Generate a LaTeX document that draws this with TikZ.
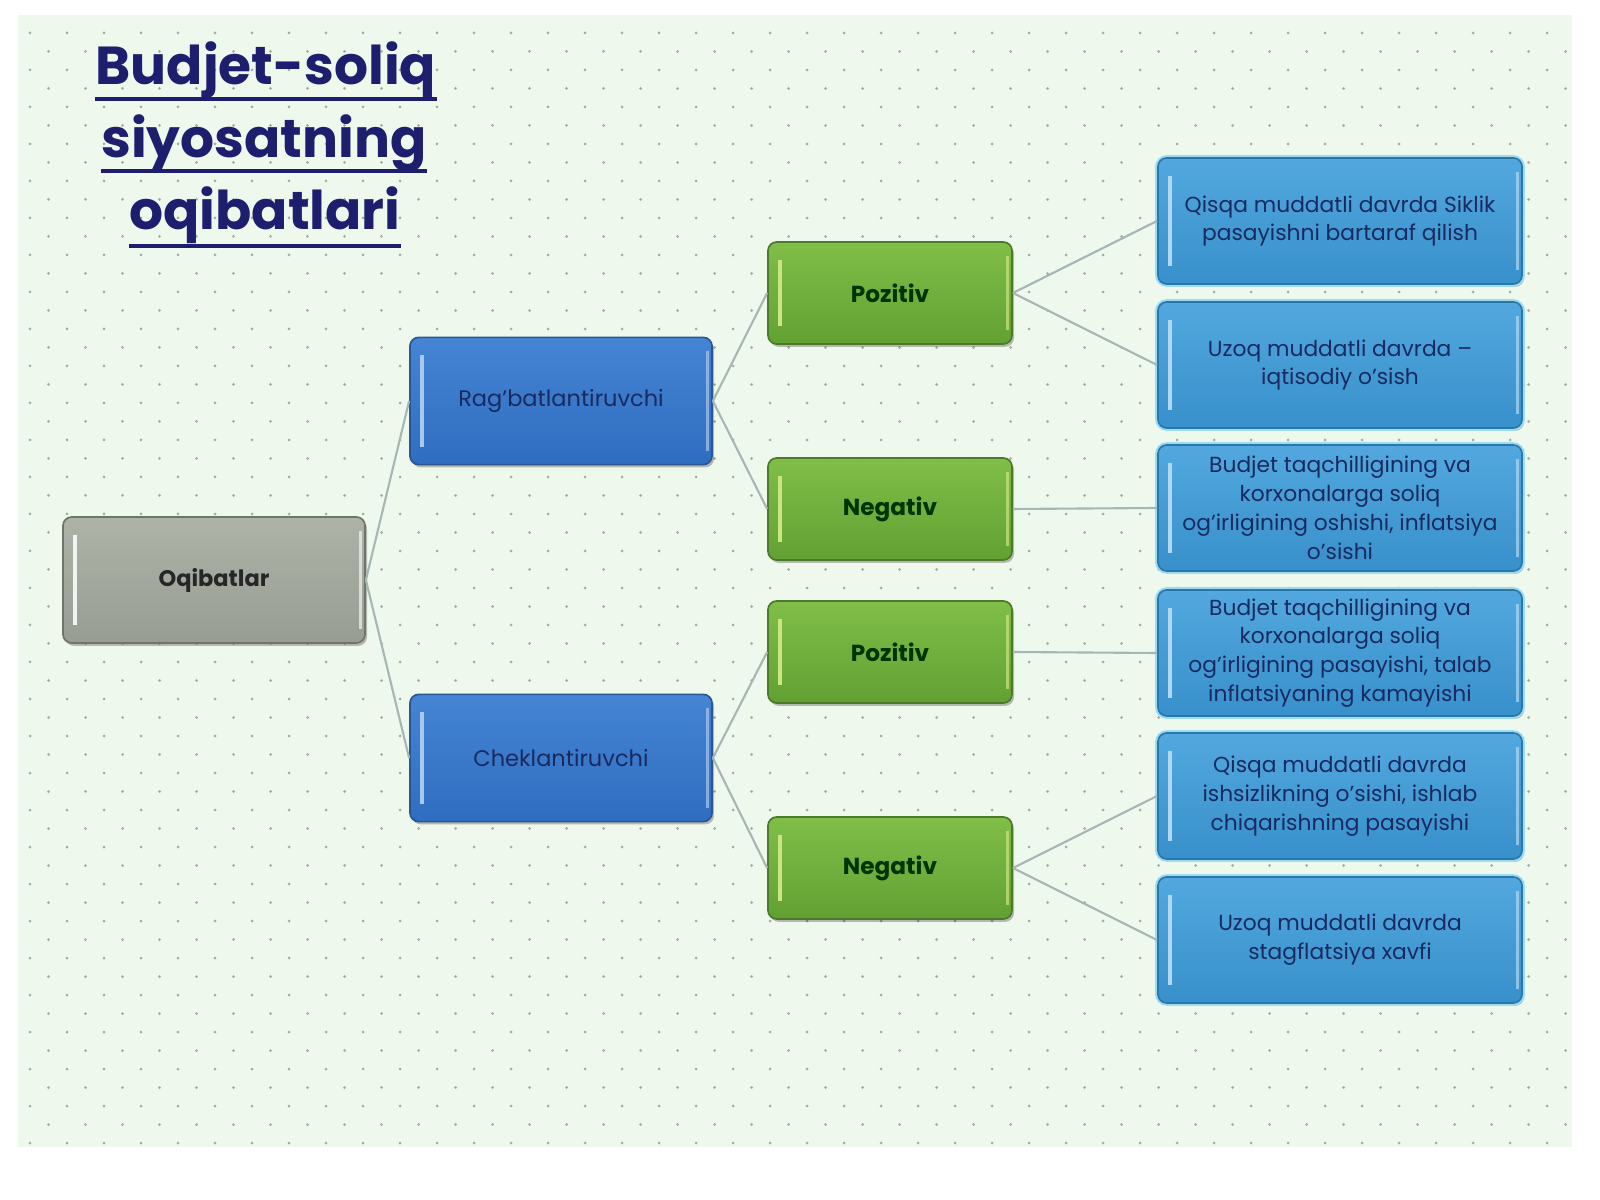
\documentclass[tikz,border=0pt]{standalone}
\usepackage{fontspec}
\setmainfont{Poppins}
\usetikzlibrary{shadows,calc}
\definecolor{bgc}{HTML}{EFF8EC}
\definecolor{dotc}{HTML}{A3ACA3}
\definecolor{linec}{HTML}{A6B6B5}
\definecolor{navy}{HTML}{1E1E6E}
\definecolor{txtblue}{HTML}{182A60}
\definecolor{grayT}{HTML}{AEB3A8}
\definecolor{grayB}{HTML}{979D92}
\definecolor{grayD}{HTML}{6E7569}
\definecolor{blueT}{HTML}{4585D4}
\definecolor{blueB}{HTML}{2F6DC0}
\definecolor{blueD}{HTML}{2A5794}
\definecolor{greenT}{HTML}{80BE48}
\definecolor{greenB}{HTML}{62A033}
\definecolor{greenD}{HTML}{4B7A2A}
\definecolor{lbT}{HTML}{52A8DE}
\definecolor{lbB}{HTML}{3890CB}
\definecolor{lbD}{HTML}{2D77A6}
\definecolor{glow}{HTML}{9ADCF6}
\tikzset{
  boxbase/.style={rectangle, rounded corners=0.22cm, inner sep=0pt, align=center, line width=1.2pt,
    drop shadow={shadow xshift=0.05cm, shadow yshift=-0.07cm, opacity=0.25, fill=black}},
  hl/.style={path picture={
      \draw[line width=2.4pt, #1] ([xshift=0.3cm,yshift=-0.45cm]path picture bounding box.north west) -- ([xshift=0.3cm,yshift=0.45cm]path picture bounding box.south west);
      \draw[line width=2pt, #1, opacity=0.7] ([xshift=-0.12cm,yshift=-0.35cm]path picture bounding box.north east) -- ([xshift=-0.12cm,yshift=0.35cm]path picture bounding box.south east);}},
  graybox/.style={boxbase, minimum width=7.55cm, minimum height=3.15cm, top color=grayT, bottom color=grayB, draw=grayD, hl=white!85!grayT,
    font=\fontsize{16}{20}\selectfont\bfseries, text=black!85},
  bluebox/.style={boxbase, minimum width=7.55cm, minimum height=3.18cm, top color=blueT, bottom color=blueB, draw=blueD, hl=white!55!blueT,
    font=\fontsize{16}{20}\selectfont, text=txtblue},
  greenbox/.style={boxbase, minimum width=6.1cm, minimum height=2.55cm, top color=greenT, bottom color=greenB, draw=greenD, hl=white!50!greenT!80!yellow,
    font=\fontsize{16.5}{20}\selectfont\bfseries, text=black!80!green},
  lbox/.style={boxbase, minimum width=9.1cm, minimum height=3.15cm, top color=lbT, bottom color=lbB, draw=lbD, hl=white!55!lbT,
    preaction={draw=glow, line width=4pt},
    font=\fontsize{15.5}{20.5}\selectfont, text=txtblue},
  conn/.style={draw=linec, line width=1.5pt},
  titlef/.style={font=\fontsize{38}{46}\selectfont\bfseries, text=navy, inner sep=0pt, anchor=base},
  uline/.style={draw=navy, line width=2.6pt}
}
\begin{document}
\begin{tikzpicture}[x=0.025cm,y=-0.025cm]
\useasboundingbox (0,0) rectangle (1600,1200);
\fill[white] (0,0) rectangle (1600,1200);
\fill[bgc] (18,15) rectangle (1572,1147);
\begin{scope}
\clip (18,15) rectangle (1572,1147);
\foreach \r in {0,...,61}{
  \pgfmathsetmacro{\off}{mod(\r,2)*18.5}
  \foreach \c in {0,...,42}{
    \fill[dotc] ({30+\off+37*\c},{33+18.5*\r}) circle (1.5);
  }
}
\end{scope}
% title
\node[titlef] (t1) at (266,85) {Budjet-soliq};
\node[titlef] (t2) at (264,158) {siyosatning};
\node[titlef] (t3) at (265,230) {oqibatlari};
\draw[uline] ($(t1.base west)+(0,14)$) -- ($(t1.base east)+(0,14)$);
\draw[uline] ($(t2.base west)+(0,13)$) -- ($(t2.base east)+(0,13)$);
\draw[uline] ($(t3.base west)+(0,16)$) -- ($(t3.base east)+(0,16)$);
% nodes
\node[graybox] (oq) at (214,580) {Oqibatlar};
\node[bluebox] (rag) at (561,401) {Rag'batlantiruvchi};
\node[bluebox] (chk) at (561,758) {Cheklantiruvchi};
\node[greenbox] (p1) at (890,293) {Pozitiv};
\node[greenbox] (n1) at (890,509) {Negativ};
\node[greenbox] (p2) at (890,652) {Pozitiv};
\node[greenbox] (n2) at (890,868) {Negativ};
\node[lbox] (r1) at (1340,221) {Qisqa muddatli davrda Siklik\\pasayishni bartaraf qilish};
\node[lbox] (r2) at (1340,365) {Uzoq muddatli davrda –\\iqtisodiy o'sish};
\node[lbox] (r3) at (1340,508) {Budjet taqchilligining va\\korxonalarga soliq\\og'irligining oshishi, inflatsiya\\o'sishi};
\node[lbox] (r4) at (1340,653) {Budjet taqchilligining va\\korxonalarga soliq\\og'irligining pasayishi, talab\\inflatsiyaning kamayishi};
\node[lbox] (r5) at (1340,796) {Qisqa muddatli davrda\\ishsizlikning o'sishi, ishlab\\chiqarishning pasayishi};
\node[lbox] (r6) at (1340,940) {Uzoq muddatli davrda\\stagflatsiya xavfi};
% connectors
\draw[conn] (oq.east) -- (rag.west);
\draw[conn] (oq.east) -- (chk.west);
\draw[conn] (rag.east) -- (p1.west);
\draw[conn] (rag.east) -- (n1.west);
\draw[conn] (chk.east) -- (p2.west);
\draw[conn] (chk.east) -- (n2.west);
\draw[conn] (p1.east) -- (r1.west);
\draw[conn] (p1.east) -- (r2.west);
\draw[conn] (n1.east) -- (r3.west);
\draw[conn] (p2.east) -- (r4.west);
\draw[conn] (n2.east) -- (r5.west);
\draw[conn] (n2.east) -- (r6.west);
\end{tikzpicture}
\end{document}
